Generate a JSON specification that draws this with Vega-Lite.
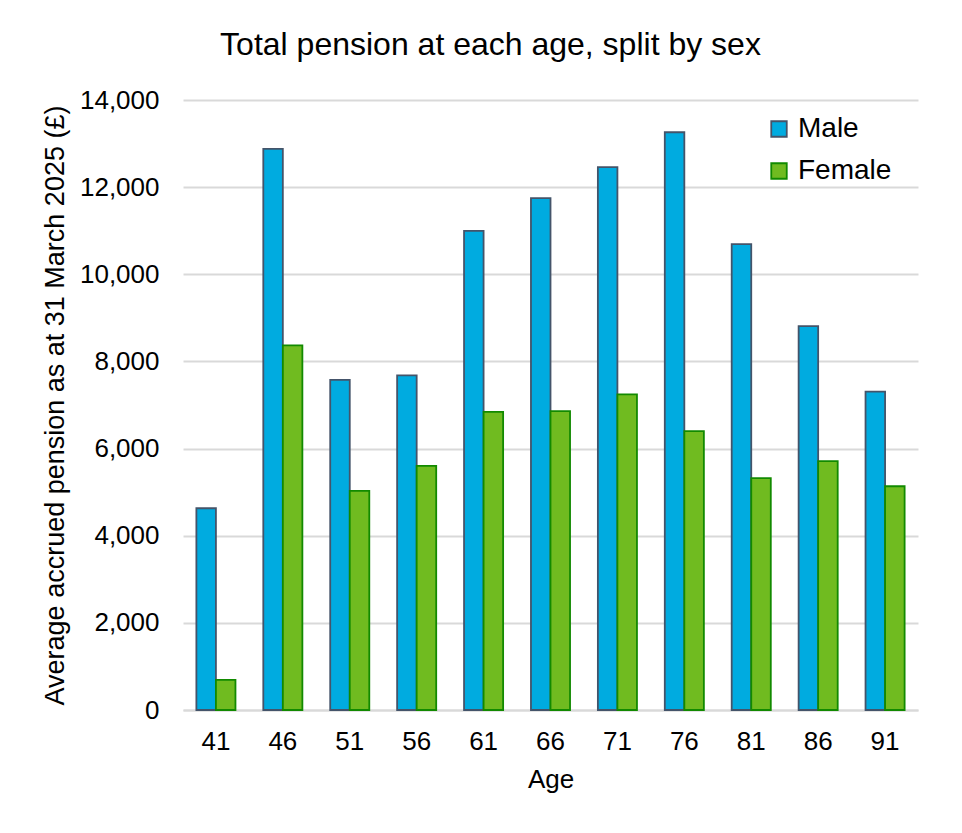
{
  "$schema": "https://vega.github.io/schema/vega-lite/v6.json",
  "width": 735,
  "height": 610,
  "autosize": {"type": "none"},
  "padding": {"left": 183, "top": 100, "right": 44, "bottom": 123},
  "background": "white",
  "config": {
    "font": "Liberation Sans",
    "view": {"stroke": null}
  },
  "title": {
    "text": "Total pension at each age, split by sex",
    "fontSize": 32,
    "fontWeight": "normal",
    "color": "#000000",
    "anchor": "middle",
    "dx": -60,
    "offset": 25
  },
  "data": {
    "values": [
      {"age": "41", "sex": "Male", "value": 4630},
      {"age": "41", "sex": "Female", "value": 690},
      {"age": "46", "sex": "Male", "value": 12880},
      {"age": "46", "sex": "Female", "value": 8370},
      {"age": "51", "sex": "Male", "value": 7575},
      {"age": "51", "sex": "Female", "value": 5030},
      {"age": "56", "sex": "Male", "value": 7680},
      {"age": "56", "sex": "Female", "value": 5605},
      {"age": "61", "sex": "Male", "value": 10995},
      {"age": "61", "sex": "Female", "value": 6840},
      {"age": "66", "sex": "Male", "value": 11750},
      {"age": "66", "sex": "Female", "value": 6860},
      {"age": "71", "sex": "Male", "value": 12460},
      {"age": "71", "sex": "Female", "value": 7245},
      {"age": "76", "sex": "Male", "value": 13260},
      {"age": "76", "sex": "Female", "value": 6400},
      {"age": "81", "sex": "Male", "value": 10690},
      {"age": "81", "sex": "Female", "value": 5320},
      {"age": "86", "sex": "Male", "value": 8810},
      {"age": "86", "sex": "Female", "value": 5710},
      {"age": "91", "sex": "Male", "value": 7305},
      {"age": "91", "sex": "Female", "value": 5135}
    ]
  },
  "mark": {"type": "bar", "strokeWidth": 1.8},
  "encoding": {
    "x": {
      "field": "age",
      "type": "ordinal",
      "sort": null,
      "scale": {"paddingInner": 0.416, "paddingOuter": 0.2},
      "axis": {
        "title": "Age",
        "titleFontSize": 26,
        "titleFontWeight": "normal",
        "titleColor": "#000000",
        "titlePadding": 12,
        "labelFontSize": 26,
        "labelColor": "#000000",
        "labelAngle": 0,
        "labelPadding": 18,
        "ticks": false,
        "domain": true,
        "domainColor": "#D9D9D9",
        "domainWidth": 2
      }
    },
    "xOffset": {
      "field": "sex",
      "type": "nominal",
      "sort": ["Male", "Female"],
      "scale": {"paddingInner": 0, "paddingOuter": 0}
    },
    "y": {
      "field": "value",
      "type": "quantitative",
      "scale": {"domain": [0, 14000], "nice": false},
      "axis": {
        "title": "Average accrued pension as at 31 March 2025 (£)",
        "titleFontSize": 27,
        "titleFontWeight": "normal",
        "titleColor": "#000000",
        "titlePadding": 10,
        "values": [0, 2000, 4000, 6000, 8000, 10000, 12000, 14000],
        "format": ",.0f",
        "labelFontSize": 26,
        "labelColor": "#000000",
        "labelPadding": 24,
        "ticks": false,
        "domain": false,
        "gridColor": "#D9D9D9",
        "gridWidth": 2
      }
    },
    "color": {
      "field": "sex",
      "type": "nominal",
      "sort": ["Male", "Female"],
      "scale": {"domain": ["Male", "Female"], "range": ["#00ABE0", "#70BB20"]},
      "legend": {
        "title": null,
        "orient": "none",
        "legendX": 582,
        "legendY": 15,
        "symbolType": "square",
        "symbolSize": 240,
        "symbolStrokeWidth": 1.8,
        "labelFontSize": 28,
        "labelColor": "#000000",
        "rowPadding": 14,
        "labelOffset": 5
      }
    },
    "stroke": {
      "field": "sex",
      "type": "nominal",
      "sort": ["Male", "Female"],
      "scale": {"domain": ["Male", "Female"], "range": ["#44546A", "#128A00"]},
      "legend": null
    }
  }
}
